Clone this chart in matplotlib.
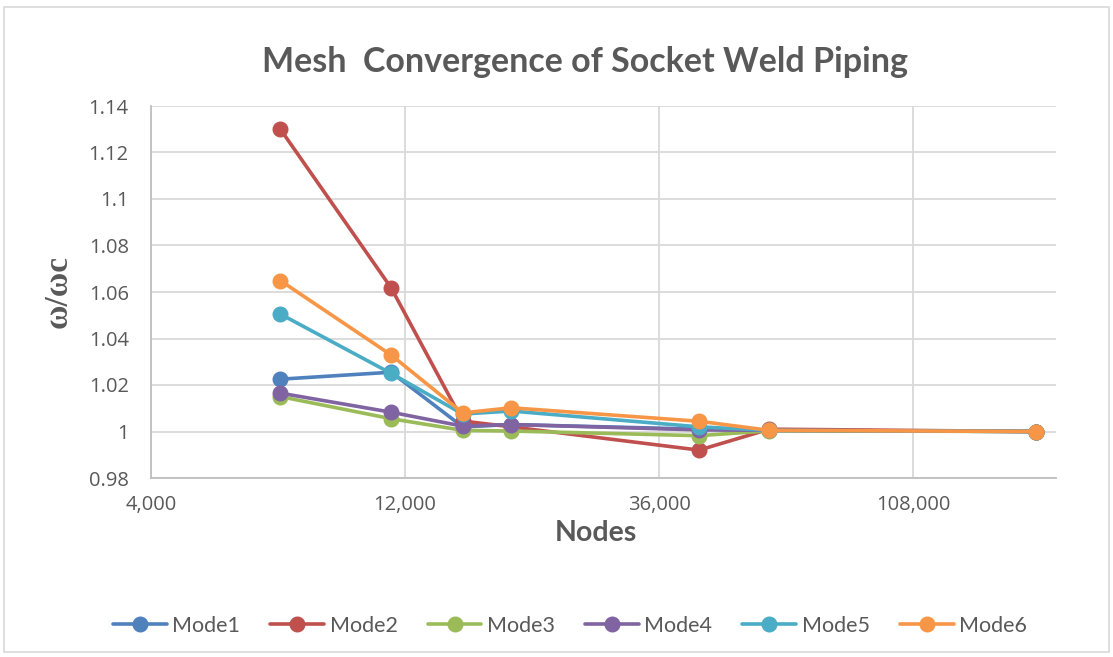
import matplotlib
matplotlib.use("Agg")
import matplotlib.pyplot as plt
from matplotlib.ticker import FixedLocator, FuncFormatter, NullLocator
from matplotlib.patches import Rectangle

nodes = [7000, 11300, 15400, 19000, 42800, 58000, 184000]
mode1 = [1.0225, 1.0255, 1.0020, 1.0030, 1.0010, 1.0005, 1.0000]
mode2 = [1.1300, 1.0618, 1.0045, 1.0020, 0.9920, 1.0010, 1.0000]
mode3 = [1.0150, 1.0055, 1.0005, 1.0002, 0.9982, 1.0003, 1.0000]
mode4 = [1.0165, 1.0083, 1.0023, 1.0030, 1.0007, 1.0005, 1.0000]
mode5 = [1.0505, 1.0250, 1.0075, 1.0088, 1.0020, 1.0005, 1.0000]
mode6 = [1.0649, 1.0329, 1.0080, 1.0102, 1.0044, 1.0005, 1.0000]
series = {"Mode1": mode1, "Mode2": mode2, "Mode3": mode3,
          "Mode4": mode4, "Mode5": mode5, "Mode6": mode6}
colors = ["#4F81BD", "#C0504D", "#9BBB59", "#8064A2", "#4BACC6", "#F79646"]
xticks = [4000, 12000, 36000, 108000]
yticks = [0.98, 1.0, 1.02, 1.04, 1.06, 1.08, 1.1, 1.12, 1.14]
ytick_labels = ["0.98", "1", "1.02", "1.04", "1.06", "1.08", "1.1", "1.12", "1.14"]

fig = plt.figure(figsize=(11.13, 6.57), dpi=100)
fig.patches.append(Rectangle((0.004, 0.008), 0.992, 0.982, transform=fig.transFigure,
                             fill=False, edgecolor="#D9D9D9", linewidth=1.2))
ax = fig.add_axes([151/1113, 1 - 478/657, (1056-151)/1113, (478-106)/657])

for (name, vals), c in zip(series.items(), colors):
    ax.plot(nodes, vals, color=c, lw=2.6, marker="o", ms=10.5, label=name,
            solid_capstyle="round")

ax.set_xscale("log", base=3)
ax.set_xlim(4000, 200400)
ax.set_ylim(0.98, 1.14)
ax.xaxis.set_major_locator(FixedLocator(xticks))
ax.xaxis.set_minor_locator(NullLocator())
ax.xaxis.set_major_formatter(FuncFormatter(lambda v, p: f"{int(round(v)):,}"))
ax.set_yticks(yticks)
ax.set_yticklabels(ytick_labels)
ax.grid(True, color="#D9D9D9", lw=1.3)
ax.set_axisbelow(True)
for s in ["top", "right"]:
    ax.spines[s].set_visible(False)
for s in ["left", "bottom"]:
    ax.spines[s].set_color("#BFBFBF")
    ax.spines[s].set_linewidth(1.3)
ax.tick_params(axis="both", length=0, labelsize=14.5, labelcolor="#595959",
               labelfontfamily="Open Sans")
ax.tick_params(axis="y", pad=16)
ax.tick_params(axis="x", pad=12)

fig.text(585/1113, 1 - 62/657, "Mesh  Convergence of Socket Weld Piping",
         ha="center", va="center", fontsize=24.5, fontweight="bold",
         color="#595959", family="Lato")
fig.text(596/1113, 1 - 533/657, "Nodes", ha="center", va="center",
         fontsize=20.5, fontweight="bold", color="#595959", family="Lato")
fig.text(58/1113, 1 - 292/657, "ω/ωc", ha="center", va="center", rotation=90,
         fontsize=24, fontweight="bold", color="#595959", family="Liberation Serif")

leg = fig.legend(loc="center", bbox_to_anchor=(570/1113, 1 - 626/657), ncol=6,
                 frameon=False, handlelength=2.5, handletextpad=0.25,
                 columnspacing=1.4, prop={"family": "Lato", "size": 15.5})
for t in leg.get_texts():
    t.set_color("#595959")

fig.savefig("out.png", dpi=100)
